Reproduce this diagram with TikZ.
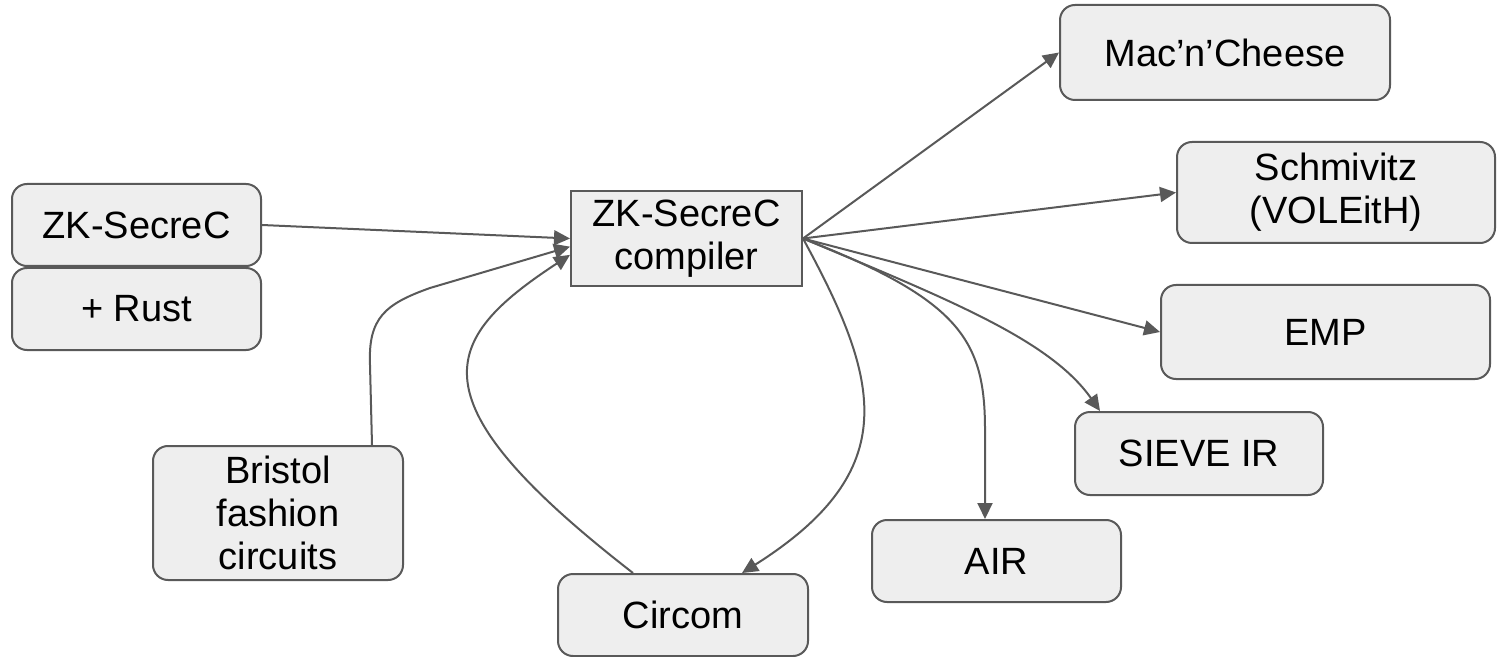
\documentclass[tikz,border=0pt]{standalone}
\usepackage{fontspec}
\setmainfont{Liberation Sans}
\usetikzlibrary{arrows.meta,calc}
\definecolor{boxfill}{HTML}{EEEEEE}
\definecolor{edge}{HTML}{595959}
\tikzset{
  box/.style={draw=edge, fill=boxfill, line width=1pt, rounded corners=7.5pt,
    align=center, inner sep=0pt, font=\fontsize{19}{21.5}\selectfont},
  sharpbox/.style={box, rounded corners=0pt},
  link/.style={draw=edge, line width=1pt, -{Triangle[length=8pt,width=7.5pt]}},
  plain/.style={draw=edge, line width=1pt}
}
\begin{document}
\begin{tikzpicture}[x=0.5pt,y=-0.5pt]
\useasboundingbox (0,0) rectangle (1497,657);
% nodes
\node[box, minimum width=124.5pt, minimum height=41pt] (zk) at (136.5,225) {ZK-SecreC};
\node[box, minimum width=124.5pt, minimum height=41pt] (rust) at (136.5,309) {+ Rust};
\node[sharpbox, minimum width=115.5pt, minimum height=47.5pt] (comp) at (686.5,238.5) {ZK-SecreC\\compiler};
\node[box, minimum width=165pt, minimum height=47.5pt] (mac) at (1225,52.5) {Mac’n’Cheese};
\node[box, minimum width=159pt, minimum height=50.5pt] (schm) at (1336,192.5) {Schmivitz\\(VOLEitH)};
\node[box, minimum width=164.5pt, minimum height=47pt] (emp) at (1325.5,332) {EMP};
\node[box, minimum width=124pt, minimum height=41.5pt] (sieve) at (1199,453.5) {SIEVE IR};
\node[box, minimum width=124.5pt, minimum height=41pt] (air) at (996.5,561) {AIR};
\node[box, minimum width=125pt, minimum height=67pt] (bristol) at (278,513) {Bristol\\fashion\\circuits};
\node[box, minimum width=125pt, minimum height=41pt] (circom) at (683,615) {Circom};
% inputs
\draw[link] (zk.east) -- (comp.west);
\draw[link] ($(bristol.north)+(94,0)$) -- (370,365) .. controls (368,318) and (385,304) .. (430,288) -- (comp.184);
\draw[link] ($(circom.north)+(-50,0)$) .. controls (410,400) and (440,340) .. (comp.188);
% outputs
\draw[link] (comp.east) -- (mac.west);
\draw[link] (comp.east) -- (schm.west);
\draw[link] (comp.east) -- (emp.west);
\draw[link] (comp.east) .. controls (950,300) and (1050,340) .. ($(sieve.north)+(-99,0)$);
\draw[link] (comp.east) .. controls (960,300) and (985,340) .. (985,430) -- ($(air.north)+(-11.5,0)$);
\draw[link] (comp.east) .. controls (880,380) and (905,470) .. ($(circom.north)+(59,0)$);
\end{tikzpicture}
\end{document}
